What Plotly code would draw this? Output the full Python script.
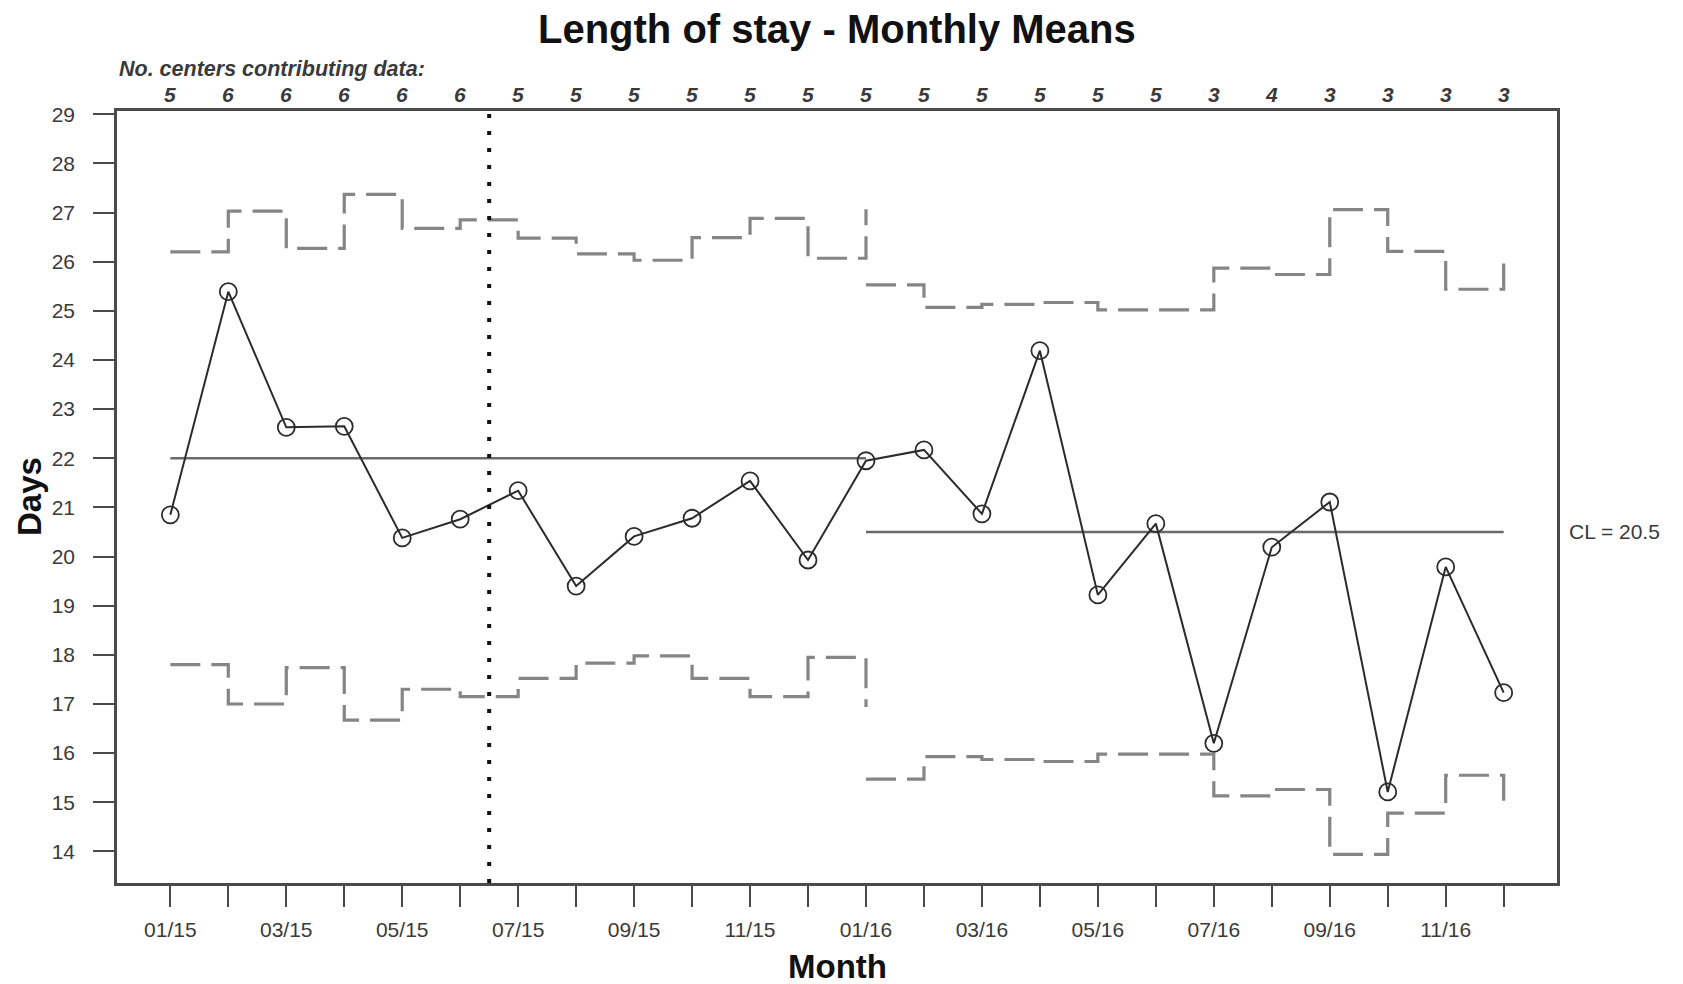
import plotly.graph_objects as go

# ---------------- data ----------------
months = ["01/15", "02/15", "03/15", "04/15", "05/15", "06/15", "07/15", "08/15",
          "09/15", "10/15", "11/15", "12/15", "01/16", "02/16", "03/16", "04/16",
          "05/16", "06/16", "07/16", "08/16", "09/16", "10/16", "11/16", "12/16"]
centers = [5, 6, 6, 6, 6, 6, 5, 5, 5, 5, 5, 5, 5, 5, 5, 5, 5, 5, 3, 4, 3, 3, 3, 3]
los_mean = [20.85, 25.39, 22.63, 22.65, 20.38, 20.76, 21.34, 19.40, 20.41, 20.78,
            21.54, 19.93, 21.95, 22.17, 20.87, 24.19, 19.22, 20.67, 16.20, 20.19,
            21.11, 15.21, 19.79, 17.23]

# phase 1 : months 0..12, phase 2 : months 12..23
phase1_idx = list(range(0, 13))
phase2_idx = list(range(12, 24))
cl1 = 22.0
cl2 = 20.5
ucl1 = [26.20, 27.03, 26.27, 27.37, 26.68, 26.85, 26.48, 26.16, 26.03, 26.49, 26.88, 26.07, 27.07]
lcl1 = [17.80, 17.00, 17.74, 16.67, 17.30, 17.15, 17.52, 17.83, 17.98, 17.52, 17.15, 17.95, 16.94]
ucl2 = [25.53, 25.07, 25.13, 25.17, 25.02, 25.02, 25.87, 25.74, 27.06, 26.21, 25.44, 25.97]
lcl2 = [15.47, 15.93, 15.87, 15.83, 15.98, 15.98, 15.13, 15.26, 13.94, 14.78, 15.55, 15.03]
phase_change = 5.5  # dotted marker between 06/15 and 07/15
y_ticks = list(range(14, 30))

# ---------------- style ----------------
FONT = "Liberation Sans, Arial, Helvetica, sans-serif"
TXT = "#3a3a3a"
LIM_COL = "#858585"
CL_COL = "#6a6a6a"
PT_COL = "#2b2b2b"
AX_COL = "#4a4a4a"
PLOT_H = 984 - 111 - 101

fig = go.Figure()

lim_line = dict(color=LIM_COL, width=3.2, dash="30px,11px", shape="hv")
for xs, ys in [(phase1_idx, ucl1), (phase1_idx, lcl1), (phase2_idx, ucl2), (phase2_idx, lcl2)]:
    fig.add_trace(go.Scatter(x=xs, y=ys, mode="lines", line=lim_line,
                             hoverinfo="skip", showlegend=False))

# centre lines
fig.add_trace(go.Scatter(x=[phase1_idx[0], phase1_idx[-1]], y=[cl1, cl1], mode="lines",
                         line=dict(color=CL_COL, width=2.6), showlegend=False))
fig.add_trace(go.Scatter(x=[phase2_idx[0], phase2_idx[-1]], y=[cl2, cl2], mode="lines",
                         line=dict(color=CL_COL, width=2.6), showlegend=False))

# monthly means
fig.add_trace(go.Scatter(x=list(range(len(months))), y=los_mean, mode="lines+markers",
                         line=dict(color=PT_COL, width=2),
                         marker=dict(symbol="circle-open", size=17,
                                     line=dict(color=PT_COL, width=1.8)),
                         showlegend=False))

# phase-change dotted line
fig.add_shape(type="line", xref="x", yref="paper", x0=phase_change, x1=phase_change,
              y0=0, y1=1, line=dict(color="#111111", width=4, dash="4px,13px"))

# number of centres
for i, c in enumerate(centers):
    fig.add_annotation(x=i, y=1 + (111 - 94.5) / PLOT_H, xref="x", yref="paper",
                       text=f"<b><i>{c}</i></b>",
                       showarrow=False, xanchor="center", yanchor="middle",
                       font=dict(family=FONT, size=21, color=TXT))
fig.add_annotation(x=0.0, y=1 + (111 - 68.7) / PLOT_H, xref="paper", yref="paper",
                   text="<b><i>No. centers contributing data:</i></b>",
                   showarrow=False, xanchor="left", yanchor="middle",
                   font=dict(family=FONT, size=21.5, color=TXT))

# CL label
fig.add_annotation(x=1.007, y=cl2, xref="paper", yref="y", text=f"CL = {cl2}",
                   showarrow=False, xanchor="left", yanchor="middle",
                   font=dict(family=FONT, size=21, color=TXT))

# title and axis titles
fig.add_annotation(x=0.5, y=1 + (111 - 29) / PLOT_H, xref="paper", yref="paper",
                   text="<b>Length of stay - Monthly Means</b>", showarrow=False,
                   xanchor="center", yanchor="middle",
                   font=dict(family=FONT, size=40, color="#111111"))
fig.add_annotation(x=0.5, y=-(966 - 883) / PLOT_H, xref="paper", yref="paper",
                   text="<b>Month</b>", showarrow=False, xanchor="center", yanchor="middle",
                   font=dict(family=FONT, size=33, color="#111111"))
fig.add_annotation(x=-(117 - 29) / 1440, y=0.5, xref="paper", yref="paper",
                   text="<b>Days</b>", showarrow=False, textangle=-90,
                   xanchor="center", yanchor="middle",
                   font=dict(family=FONT, size=33, color="#111111"))

fig.update_layout(
    width=1683, height=984,
    margin=dict(l=117, r=126, t=111, b=101),
    paper_bgcolor="white", plot_bgcolor="white",
    showlegend=False,
    xaxis=dict(range=[-0.92, 23.92], tickmode="array",
               tickvals=list(range(len(months))),
               ticktext=[m if i % 2 == 0 else "" for i, m in enumerate(months)],
               ticks="outside", ticklen=21, tickwidth=2, tickcolor=AX_COL,
               showline=True, linecolor=AX_COL, linewidth=2.5, mirror=True,
               showgrid=False, zeroline=False, ticklabelstandoff=5,
               tickfont=dict(family=FONT, size=21, color=TXT)),
    yaxis=dict(range=[13.357, 29.067], tickmode="array", tickvals=y_ticks,
               ticktext=[str(v) for v in y_ticks],
               ticks="outside", ticklen=21, tickwidth=2, tickcolor=AX_COL,
               showline=True, linecolor=AX_COL, linewidth=2.5, mirror=True,
               showgrid=False, zeroline=False, ticklabelstandoff=14,
               tickfont=dict(family=FONT, size=21, color=TXT)),
)

fig.write_html("out.html",
               config={"displayModeBar": False},
               post_script="document.body.style.margin='0px';"
                           "document.body.style.overflow='hidden';")
